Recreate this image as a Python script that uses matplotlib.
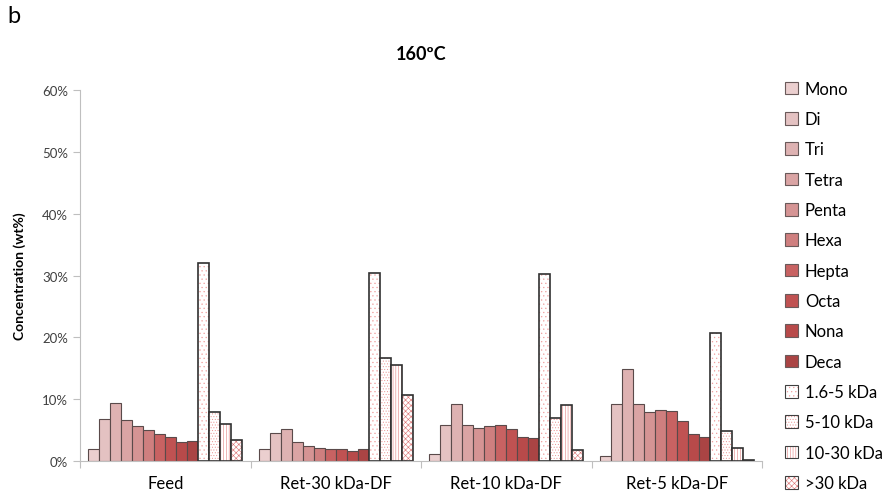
import numpy as np
import matplotlib.pyplot as plt
from matplotlib.patches import Patch
from matplotlib.ticker import FuncFormatter

plt.rcParams['font.family'] = ['Lato', 'DejaVu Sans']
plt.rcParams['hatch.linewidth'] = 0.4

# データ (wt%)
groups = ["Feed", "Ret-30 kDa-DF", "Ret-10 kDa-DF", "Ret-5 kDa-DF"]
oligo_names = ["Mono", "Di", "Tri", "Tetra", "Penta", "Hexa", "Hepta", "Octa", "Nona", "Deca"]
mw_names = ["1.6-5 kDa", "5-10 kDa", "10-30 kDa", ">30 kDa"]

mono = [2.0, 2.0, 1.2, 0.8]
di = [6.8, 4.5, 5.8, 9.2]
tri = [9.4, 5.1, 9.2, 14.8]
tetra = [6.6, 3.0, 5.9, 9.2]
penta = [5.7, 2.5, 5.3, 7.9]
hexa = [5.0, 2.1, 5.7, 8.3]
hepta = [4.4, 1.9, 5.9, 8.1]
octa = [3.9, 1.9, 5.2, 6.5]
nona = [3.1, 1.6, 3.8, 4.3]
deca = [3.3, 2.0, 3.7, 3.8]
kda_1_5 = [32.0, 30.4, 30.2, 20.7]
kda_5_10 = [7.9, 16.6, 6.9, 4.8]
kda_10_30 = [6.0, 15.6, 9.1, 2.1]
kda_30 = [3.4, 10.6, 1.7, 0.2]

oligo_vals = [mono, di, tri, tetra, penta, hexa, hepta, octa, nona, deca]
mw_vals = [kda_1_5, kda_5_10, kda_10_30, kda_30]

oligo_colors = ["#ebcfcf", "#e4c2c2", "#deb2b2", "#daa4a4", "#d59494", "#cf7f7f",
                "#c86262", "#c05252", "#b84a4a", "#aa4444"]
mw_hatches = ["....", "......", "||||||", "xxxxxx"]
mw_hatch_colors = ["#f0a0a0", "#eb9494", "#e48080", "#dc7070"]

fig, ax = plt.subplots(figsize=(8.83, 5.02), dpi=100)
fig.subplots_adjust(left=0.0906, right=0.863, bottom=0.0797, top=0.8187)

x = np.arange(len(groups))
n_bars = len(oligo_vals) + len(mw_vals)
w = 0.0647
handles = []

for j, (vals, c, name) in enumerate(zip(oligo_vals, oligo_colors, oligo_names)):
    pos = x + (j - (n_bars - 1) / 2) * w
    ax.bar(pos, np.array(vals) / 100, w, color=c, edgecolor="#5a4a4a", linewidth=0.8)
    handles.append(Patch(facecolor=c, edgecolor="#6a5a5a", linewidth=0.8))

for k, (vals, h, hc) in enumerate(zip(mw_vals, mw_hatches, mw_hatch_colors)):
    j = len(oligo_vals) + k
    pos = x + (j - (n_bars - 1) / 2) * w
    ax.bar(pos, np.array(vals) / 100, w, color="white", edgecolor=hc, hatch=h, linewidth=0)
    ax.bar(pos, np.array(vals) / 100, w, color="none", edgecolor="#303030", linewidth=1.2)
    handles.append((Patch(facecolor="white", edgecolor=hc, hatch=h, linewidth=0),
                    Patch(facecolor="none", edgecolor="#404040", linewidth=0.8)))

ax.set_ylim(0, 0.6)
ax.set_xlim(-0.5, len(groups) - 0.5)
ax.set_yticks(np.arange(0, 0.61, 0.1))
ax.yaxis.set_major_formatter(FuncFormatter(lambda v, p: f"{v * 100:.0f}%"))
ax.set_xticks(np.arange(-0.5, len(groups), 1.0))
ax.set_xticklabels([])
ax.set_xticks(x, minor=True)
ax.set_xticklabels(groups, minor=True, fontsize=12)
ax.tick_params(axis="x", which="minor", length=0, pad=10)
ax.tick_params(axis="x", which="major", length=5, color="#bfbfbf")
ax.tick_params(axis="y", length=5, color="#bfbfbf", labelsize=9.5, labelcolor="#404040")

for s in ["top", "right"]:
    ax.spines[s].set_visible(False)
for s in ["left", "bottom"]:
    ax.spines[s].set_color("#bfbfbf")

ax.set_ylabel("Concentration (wt%)", fontsize=10, fontweight="bold", labelpad=12)
ax.set_title("160ºC", fontsize=13, fontweight="bold", pad=22)
fig.text(0.008, 0.955, "b", fontsize=17)

fig.legend(handles=handles, labels=oligo_names + mw_names, loc="upper left",
           bbox_to_anchor=(0.872, 0.867), frameon=False,
           fontsize=12, handlelength=0.8, handleheight=0.8, handletextpad=0.4, labelspacing=0.86)

plt.savefig("out.png", dpi=100)
